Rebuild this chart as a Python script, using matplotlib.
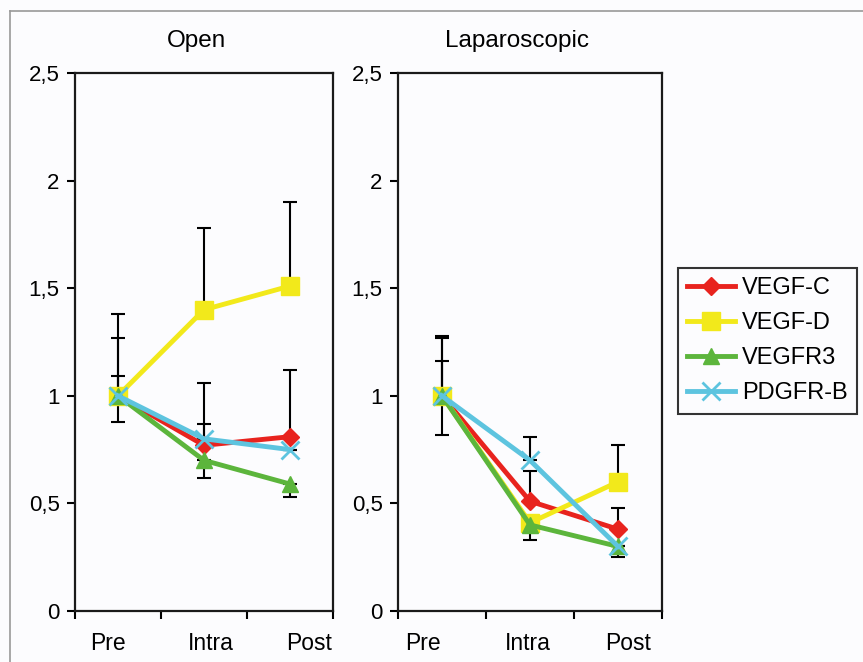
import numpy as np
import matplotlib.pyplot as plt
from matplotlib.lines import Line2D

plt.rcParams['font.family'] = ['Liberation Sans', 'DejaVu Sans']

# --- Data ---
stages = ["Pre", "Intra", "Post"]
series = ["VEGF-C", "VEGF-D", "VEGFR3", "PDGFR-B"]
colors = ["#E8231E", "#F2E91B", "#5CB53C", "#5DC4DF"]
markers = ["D", "s", "^", "x"]
msizes = [9, 13, 12, 13]

open_vals = {
    "VEGF-C": [1.0, 0.77, 0.81],
    "VEGF-D": [1.0, 1.40, 1.51],
    "VEGFR3": [1.0, 0.70, 0.59],
    "PDGFR-B": [1.0, 0.80, 0.75],
}
open_err_up = {
    "VEGF-C": [0.27, 0.29, 0.31],
    "VEGF-D": [0.38, 0.38, 0.39],
    "VEGFR3": [0.0, 0.0, 0.0],
    "PDGFR-B": [0.09, 0.07, 0.0],
}
open_err_down = {
    "VEGF-C": [0.0, 0.0, 0.0],
    "VEGF-D": [0.0, 0.0, 0.0],
    "VEGFR3": [0.12, 0.08, 0.06],
    "PDGFR-B": [0.0, 0.0, 0.0],
}

lap_vals = {
    "VEGF-C": [1.0, 0.51, 0.38],
    "VEGF-D": [1.0, 0.41, 0.60],
    "VEGFR3": [1.0, 0.40, 0.30],
    "PDGFR-B": [1.0, 0.70, 0.30],
}
lap_err_up = {
    "VEGF-C": [0.27, 0.14, 0.10],
    "VEGF-D": [0.28, 0.0, 0.17],
    "VEGFR3": [0.0, 0.0, 0.0],
    "PDGFR-B": [0.16, 0.11, 0.0],
}
lap_err_down = {
    "VEGF-C": [0.0, 0.0, 0.0],
    "VEGF-D": [0.0, 0.0, 0.0],
    "VEGFR3": [0.18, 0.07, 0.05],
    "PDGFR-B": [0.0, 0.0, 0.0],
}

yticks = [0, 0.5, 1, 1.5, 2, 2.5]
ytick_labels = ["0", "0,5", "1", "1,5", "2", "2,5"]


def draw_panel(ax, vals, err_up, err_down, title_x, title, label_pos):
    x = np.arange(len(stages)) + 0.5
    for name in series:
        y = np.array(vals[name])
        up = np.array(err_up[name])
        dn = np.array(err_down[name])
        ax.errorbar(x, y, yerr=[dn, up], fmt="none", ecolor="black",
                    elinewidth=1.5, capsize=5, capthick=1.5, zorder=2)
    for name, col, mk, ms in zip(series, colors, markers, msizes):
        y = np.array(vals[name])
        ax.plot(x, y, color=col, lw=3.5, marker=mk, markersize=ms,
                mew=2 if mk == "x" else 1, mec=col, mfc=col,
                label=name, zorder=3)

    ax.set_xlim(0, 3)
    ax.set_ylim(0, 2.5)
    ax.set_yticks(yticks)
    ax.set_yticklabels(ytick_labels)
    ax.set_xticks([0, 1, 2, 3])
    ax.set_xticklabels([])
    # Excel-style category labels, slightly off the category centres
    ax.set_xticks(label_pos, minor=True)
    ax.set_xticklabels(stages, minor=True)
    ax.tick_params(axis="x", which="minor", length=0, pad=15, labelsize=16.5)
    ax.tick_params(axis="x", which="major", length=6, width=1.5, direction="out")
    ax.tick_params(axis="y", length=6, width=1.5, direction="out", labelsize=16, pad=5)
    for sp in ax.spines.values():
        sp.set_linewidth(1.6)
        sp.set_color("#1a1a1a")
    fig.text(title_x, 1 - 41 / 662, title, ha="center", va="center", fontsize=17.5)


fig = plt.figure(figsize=(8.63, 6.62), dpi=100)
fig.patch.set_facecolor("#FCFCFE")

# outer frame lines
fig.add_artist(Line2D([10 / 863, 1.0], [1 - 11 / 662, 1 - 11 / 662], color="#999999", lw=1.2))
fig.add_artist(Line2D([10 / 863, 10 / 863], [0, 1 - 11 / 662], color="#999999", lw=1.2))

ax1 = fig.add_axes([75 / 863, 1 - 611 / 662, 258 / 863, 538 / 662])
ax2 = fig.add_axes([398 / 863, 1 - 611 / 662, 264 / 863, 538 / 662])
for a in (ax1, ax2):
    a.set_facecolor("#FCFCFE")

draw_panel(ax1, open_vals, open_err_up, open_err_down, 196 / 863, "Open",
           [0.38, 1.58, 2.72])
draw_panel(ax2, lap_vals, lap_err_up, lap_err_down, 517 / 863, "Laparoscopic",
           [0.28, 1.47, 2.61])

handles, labels = ax2.get_legend_handles_labels()
leg = fig.legend(handles, labels, loc="upper left",
                 bbox_to_anchor=(678 / 863, 1 - 268 / 662),
                 fontsize=17, frameon=True, fancybox=False,
                 edgecolor="black", handlelength=2.0, handletextpad=0.3,
                 borderpad=0.4, labelspacing=0.55, borderaxespad=0)
leg.get_frame().set_linewidth(1.5)
leg.get_frame().set_facecolor("#FCFCFE")

fig.savefig("out.png", dpi=100, facecolor=fig.get_facecolor())
